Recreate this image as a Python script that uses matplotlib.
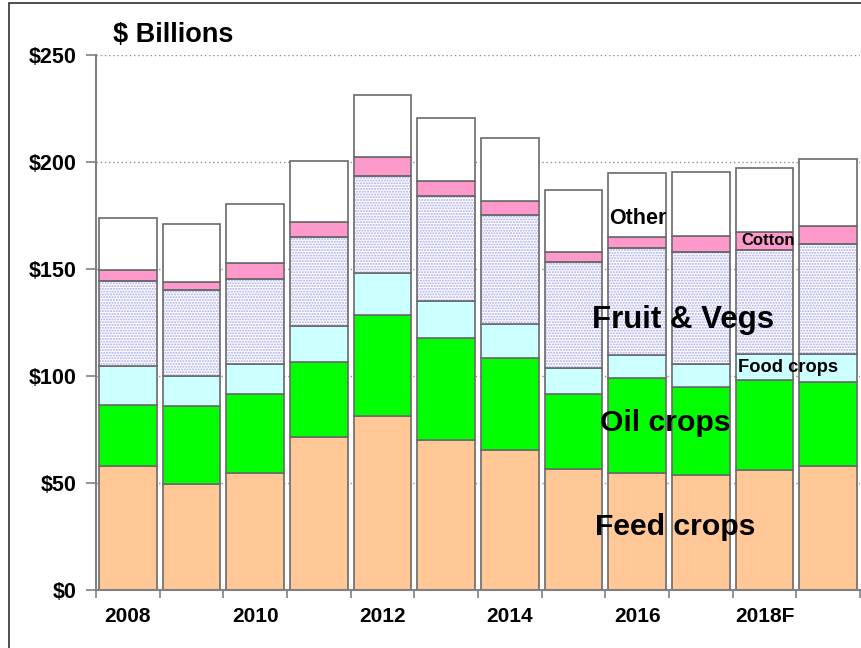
import matplotlib
matplotlib.use("Agg")
import matplotlib.pyplot as plt
from matplotlib.patches import Rectangle
import numpy as np

plt.rcParams['font.family'] = ['Liberation Sans', 'DejaVu Sans']

years = ["2008", "2009", "2010", "2011", "2012", "2013", "2014", "2015", "2016", "2017", "2018F", "2019F"]
tick_labels = ["2008", "", "2010", "", "2012", "", "2014", "", "2016", "", "2018F", ""]

# cumulative tops ($ billions)
feed = [58.1, 49.7, 54.5, 71.3, 81.5, 70.1, 65.4, 56.4, 54.5, 53.6, 56.1, 58.1]
oil_top = [86.4, 85.8, 91.4, 106.7, 128.5, 117.6, 108.3, 91.6, 98.9, 95.0, 98.1, 97.3]
food_top = [104.8, 100.0, 105.8, 123.4, 148.3, 135.2, 124.3, 103.9, 109.8, 105.6, 110.1, 110.1]
fruit_top = [144.4, 140.2, 145.2, 165.1, 193.6, 184.3, 175.2, 153.4, 159.7, 157.8, 158.9, 161.7]
cotton_top = [149.5, 144.1, 152.7, 172.1, 202.2, 191.1, 181.8, 157.8, 165.1, 165.4, 167.1, 170.2]
total = [173.7, 171.2, 180.4, 200.5, 231.5, 220.7, 211.4, 186.9, 194.7, 195.3, 197.0, 201.2]

feed = np.array(feed)
oil = np.array(oil_top) - np.array(feed)
food = np.array(food_top) - np.array(oil_top)
fruit = np.array(fruit_top) - np.array(food_top)
cotton = np.array(cotton_top) - np.array(fruit_top)
other = np.array(total) - np.array(cotton_top)

W, H = 861, 648
fig = plt.figure(figsize=(W / 100, H / 100), dpi=100)
fig.patches.append(Rectangle((9 / W, -0.1), 1.2, (H - 3) / H + 0.1, transform=fig.transFigure,
                             fill=False, edgecolor='#303030', linewidth=1.2))

ax = fig.add_axes([96 / W, 58 / H, (860 - 96) / W, 535 / H])
x = np.arange(len(years))
bw = 0.91
ec = '#6a6a6a'
lw = 1.2

ax.bar(x, feed, bw, color='#FFC896', edgecolor=ec, linewidth=lw, zorder=2)
ax.bar(x, oil, bw, bottom=oil_top - oil, color='#00FF00', edgecolor=ec, linewidth=lw, zorder=2)
ax.bar(x, food, bw, bottom=np.array(oil_top), color='#CCFFFF', edgecolor=ec, linewidth=lw, zorder=2)
ax.bar(x, fruit, bw, bottom=np.array(food_top), color='white', edgecolor='#A8A8F0', linewidth=0,
       hatch='......', zorder=2)
ax.bar(x, fruit, bw, bottom=np.array(food_top), fill=False, edgecolor=ec, linewidth=lw, zorder=3)
ax.bar(x, cotton, bw, bottom=np.array(fruit_top), color='#FF99CC', edgecolor=ec, linewidth=lw, zorder=2)
ax.bar(x, other, bw, bottom=np.array(cotton_top), color='white', edgecolor=ec, linewidth=lw, zorder=2)

ax.set_xlim(-0.5, 11.5)
ax.set_ylim(0, 250)
ax.set_yticks([0, 50, 100, 150, 200, 250])
ax.set_yticklabels(["$0", "$50", "$100", "$150", "$200", "$250"], fontsize=15.5, fontweight='bold')
ax.yaxis.grid(True, linestyle=(0, (1, 2)), color='#909090', linewidth=1.0, zorder=0)
ax.set_axisbelow(True)

ax.set_xticks(x)
ax.set_xticklabels(tick_labels, fontsize=15, fontweight='bold')
ax.tick_params(axis='x', length=0, pad=12)
ax.set_xticks(np.arange(-0.5, 12, 1), minor=True)
ax.tick_params(axis='x', which='minor', length=6, color='#808080', width=1.2)
ax.tick_params(axis='y', length=7, color='#808080', width=1.2, pad=7)

for s in ['top', 'right']:
    ax.spines[s].set_visible(False)
for s in ['left', 'bottom']:
    ax.spines[s].set_color('#808080')
    ax.spines[s].set_linewidth(1.5)

fig.text(113 / W, 1 - 35 / H, "$ Billions", fontsize=19.5, fontweight='bold', va='center', ha='left')

ax.text(8.01, 173.8, "Other", fontsize=15.5, fontweight='bold', ha='center', va='center', zorder=5)
ax.text(10.05, 163.1, "Cotton", fontsize=12, fontweight='bold', ha='center', va='center', zorder=5)
ax.text(8.72, 126.2, "Fruit & Vegs", fontsize=22.5, fontweight='bold', ha='center', va='center', zorder=5)
ax.text(10.37, 104.2, "Food crops", fontsize=13.2, fontweight='bold', ha='center', va='center', zorder=5)
ax.text(8.44, 78.0, "Oil crops", fontsize=21.7, fontweight='bold', ha='center', va='center', zorder=5)
ax.text(8.59, 29.4, "Feed crops", fontsize=21.7, fontweight='bold', ha='center', va='center', zorder=5)

fig.savefig("out.png", dpi=100)
